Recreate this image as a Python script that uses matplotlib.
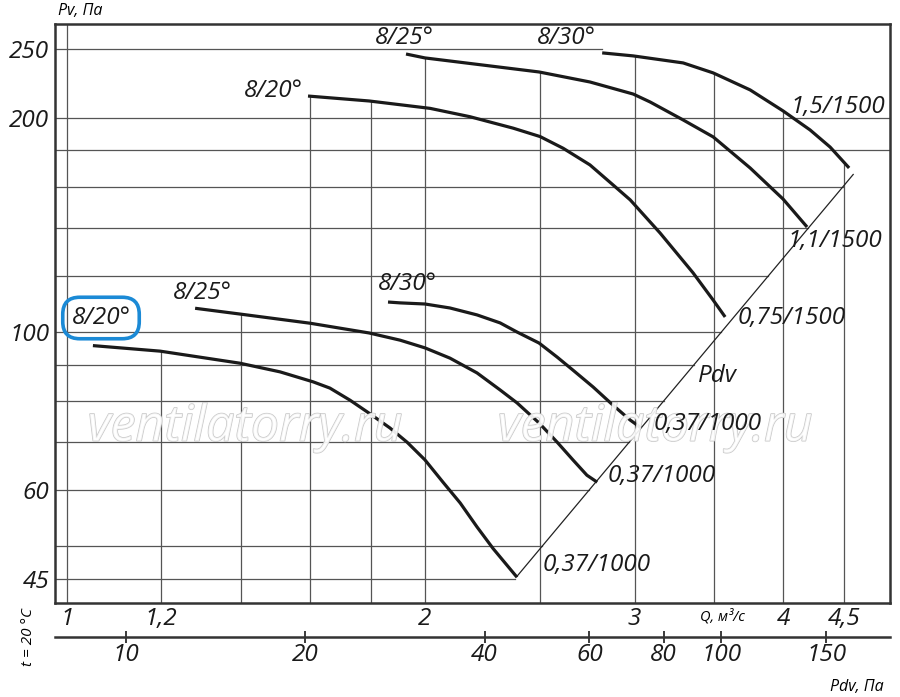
import numpy as np
import matplotlib
matplotlib.use("Agg")
import matplotlib.pyplot as plt
import matplotlib.patheffects as pe
from matplotlib.ticker import NullLocator

# fan curves, Q in m3/s, Pv in Pa
q_a = [1.052, 1.198, 1.398, 1.511, 1.611, 1.664, 1.730, 1.795, 1.869, 1.932, 2.000,
       2.071, 2.141, 2.212, 2.282, 2.390]
p_a = [95.7, 94.0, 90.4, 87.9, 85.1, 83.4, 80.2, 76.9, 73.3, 70.0, 66.1,
       61.5, 57.5, 53.2, 49.6, 45.2]
q_b = [1.282, 1.398, 1.601, 1.795, 1.906, 2.000, 2.099, 2.212, 2.313, 2.390, 2.494,
       2.583, 2.663, 2.736, 2.791]
p_b = [108.0, 106.0, 102.9, 99.7, 97.4, 95.0, 91.9, 87.6, 82.9, 79.5, 74.5,
       70.0, 66.1, 62.9, 61.5]
q_c = [1.862, 1.906, 2.000, 2.099, 2.212, 2.313, 2.390, 2.494, 2.583, 2.663, 2.769,
       2.878, 2.975, 3.039]
p_c = [110.2, 109.9, 109.5, 108.1, 105.7, 103.0, 100.0, 96.5, 92.2, 88.4, 83.7,
       78.9, 75.2, 73.3]
q_d = [1.595, 1.795, 2.020, 2.182, 2.372, 2.499, 2.613, 2.752, 2.878, 2.975, 3.152,
       3.360, 3.493, 3.575]
p_d = [214.7, 211.3, 206.3, 200.8, 193.5, 188.3, 181.3, 171.8, 161.0, 153.4, 137.8,
       121.1, 110.9, 105.0]
q_e = [1.928, 2.000, 2.494, 2.752, 2.992, 3.092, 3.296, 3.493, 3.752, 3.999, 4.189]
p_e = [246.0, 242.9, 232.1, 224.7, 216.1, 210.6, 198.7, 188.1, 170.1, 153.8, 140.5]
q_f = [2.818, 2.992, 3.296, 3.493, 3.752, 3.999, 4.213, 4.380, 4.544]
p_f = [246.9, 244.5, 239.0, 231.4, 219.0, 204.6, 192.4, 182.0, 170.1]
curves = [(q_a, p_a), (q_b, p_b), (q_c, p_c), (q_d, p_d), (q_e, p_e), (q_f, p_f)]

# dynamic pressure Pdv = K * Q^2
K = 7.94
pdv_line_q = [2.39, 4.58]

grid_q = [1, 1.2, 1.4, 1.6, 1.8, 2, 2.5, 3, 3.5, 4, 4.5]
grid_p = [45, 50, 60, 70, 80, 90, 100, 120, 140, 160, 180, 200, 250]

q_ticks = [1, 1.2, 2, 3, 4, 4.5]
q_labels = ["1", "1,2", "2", "3", "4", "4,5"]
p_ticks = [45, 60, 100, 200, 250]
p_labels = ["45", "60", "100", "200", "250"]
pdv_ticks = [10, 20, 40, 60, 80, 100, 150]
pdv_labels = ["10", "20", "40", "60", "80", "100", "150"]

plt.rcParams["font.family"] = ["Open Sans", "DejaVu Sans"]
plt.rcParams["font.style"] = "italic"

W, H = 900, 697
fig = plt.figure(figsize=(W / 100, H / 100), dpi=100)
ax = fig.add_axes([55 / W, 1 - 603 / H, 835 / W, 579 / H])
ax.set_xscale("log")
ax.set_yscale("log")
q_min, q_max = 0.9776, 4.918
p_min, p_max = 41.59, 271.1
ax.set_xlim(q_min, q_max)
ax.set_ylim(p_min, p_max)

grid_kw = dict(color="#555555", lw=0.9, zorder=1)


def top_of(q):
    vals = [np.interp(q, cq, cp) for cq, cp in curves if cq[0] <= q <= cq[-1]]
    return max(vals) if vals else p_max


for q in grid_q:
    ax.plot([q, q], [p_min, top_of(q)], **grid_kw)

for p in grid_p:
    q_end = np.sqrt(p / K)
    if p == grid_p[-1]:
        q_end = q_f[0]
    elif q_end > pdv_line_q[1]:
        q_end = q_max
    ax.plot([q_min, q_end], [p, p], **grid_kw)

pq = np.array(pdv_line_q)
ax.plot(pq, K * pq ** 2, color="#222222", lw=0.9, zorder=2)

for cq, cp in curves:
    ax.plot(cq, cp, color="#1a1a1a", lw=2.3, solid_capstyle="butt",
            solid_joinstyle="round", zorder=3)

for s in ax.spines.values():
    s.set_linewidth(1.8)
    s.set_color("#333333")

FS = 17.5
ax.set_xticks(q_ticks, labels=q_labels)
ax.set_yticks(p_ticks, labels=p_labels)
ax.xaxis.set_minor_locator(NullLocator())
ax.yaxis.set_minor_locator(NullLocator())
ax.tick_params(axis="both", length=0, labelsize=FS, colors="#1a1a1a")
ax.tick_params(axis="x", pad=3)
ax.tick_params(axis="y", pad=4)

sec = ax.secondary_xaxis(-34 / 579, functions=(lambda q: K * q ** 2,
                                              lambda p: np.sqrt(np.clip(p, 1e-9, None) / K)))
sec.set_xticks(pdv_ticks, labels=pdv_labels)
sec.xaxis.set_minor_locator(NullLocator())
sec.tick_params(direction="inout", length=9, width=1.2, labelsize=FS, pad=0, colors="#1a1a1a")
sec.spines["bottom"].set_linewidth(1.8)
sec.spines["bottom"].set_color("#333333")


def px(x, y):
    return x / W, 1 - y / H


# watermark first, labels drawn over it
for x in (245, 655):
    fig.text(*px(x, 428), "ventilatorry.ru", ha="center", va="center", fontsize=36,
             color=(1, 1, 1, 0.55), style="italic", zorder=1,
             path_effects=[pe.withStroke(linewidth=1.1, foreground="#c8c8c8"), pe.Normal()])

txt = dict(ha="center", va="center", color="#1a1a1a", fontsize=FS, zorder=3)
for s, x, y in [("8/25°", 404, 38), ("8/30°", 566, 38), ("8/20°", 273, 91),
                ("8/25°", 202, 293), ("8/30°", 407, 284),
                ("1,5/1500", 838, 107), ("1,1/1500", 835, 241), ("0,75/1500", 792, 318),
                ("0,37/1000", 708, 424), ("0,37/1000", 662, 476), ("0,37/1000", 597, 565),
                ("Pdv", 717, 376)]:
    fig.text(*px(x, y), s, **txt)

fig.text(*px(101, 318), "8/20°", **txt,
         bbox=dict(boxstyle="round,pad=0.36,rounding_size=0.7", fc="none",
                   ec="#1b8ad6", lw=2.6))

fig.text(*px(80, 11), "Pv, Па", ha="center", va="center", fontsize=11.5)
fig.text(*px(722, 617), "Q, м³/с", ha="center", va="center", fontsize=10.5)
fig.text(*px(857, 687), "Pdv, Па", ha="center", va="center", fontsize=11.5)
fig.text(*px(28, 637), "t = 20 °C", ha="center", va="center", fontsize=11, rotation=90)

fig.savefig("out.png", dpi=100)
